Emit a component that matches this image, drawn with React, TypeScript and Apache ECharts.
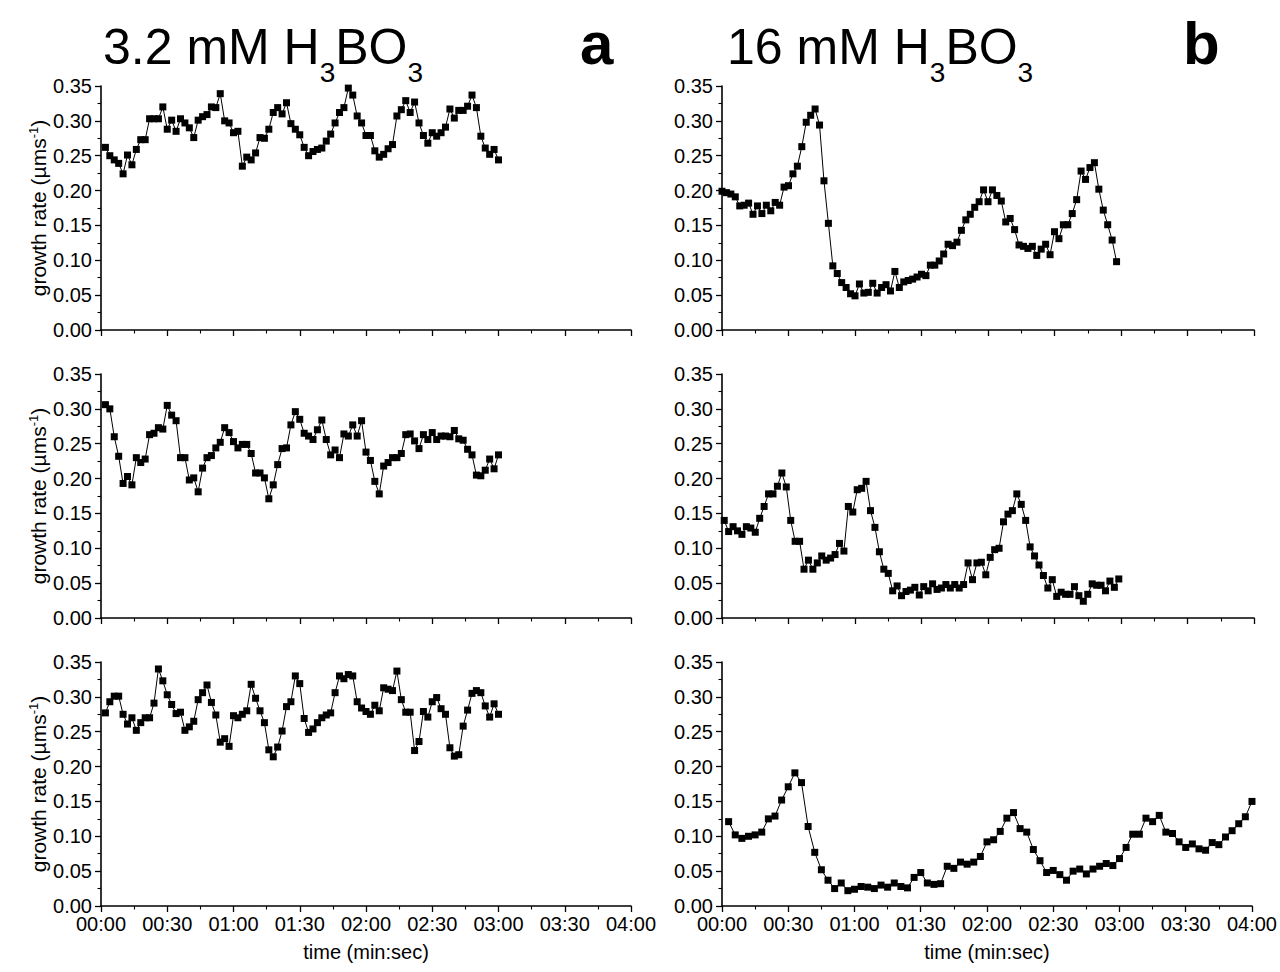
import React, { useEffect, useRef } from 'react';
import * as echarts from 'echarts';

const FONT = "'Liberation Sans', Arial, Helvetica, sans-serif";

// time axis (seconds) and tick labels
const timeMax = 240;
const timeInterval = 30;
const rateMax = 0.35;
const rateInterval = 0.05;

// column a: 3.2 mM H3BO3 (sampled every 2 s)
const rateA1 = [0.262,0.250,0.244,0.239,0.224,0.251,0.237,0.259,0.273,0.273,0.303,0.303,0.303,0.320,0.288,0.301,0.285,0.303,0.297,0.290,0.276,0.301,0.306,0.309,0.320,0.319,0.339,0.300,0.297,0.283,0.285,0.235,0.248,0.244,0.254,0.276,0.275,0.288,0.312,0.319,0.310,0.326,0.296,0.288,0.280,0.262,0.250,0.256,0.259,0.261,0.271,0.281,0.297,0.312,0.319,0.347,0.337,0.307,0.297,0.279,0.279,0.257,0.248,0.252,0.260,0.266,0.307,0.316,0.329,0.312,0.327,0.297,0.279,0.268,0.283,0.278,0.283,0.291,0.317,0.304,0.315,0.315,0.321,0.337,0.319,0.278,0.261,0.252,0.259,0.244];
const rateA2 = [0.306,0.300,0.260,0.232,0.193,0.203,0.191,0.230,0.223,0.228,0.263,0.265,0.273,0.271,0.305,0.291,0.283,0.230,0.230,0.198,0.201,0.181,0.215,0.230,0.233,0.244,0.252,0.273,0.266,0.253,0.244,0.249,0.249,0.236,0.208,0.208,0.201,0.171,0.191,0.220,0.243,0.244,0.277,0.296,0.285,0.265,0.261,0.256,0.270,0.284,0.256,0.234,0.241,0.230,0.264,0.261,0.277,0.261,0.283,0.238,0.226,0.196,0.178,0.218,0.223,0.230,0.230,0.236,0.263,0.264,0.254,0.243,0.263,0.256,0.266,0.256,0.261,0.261,0.260,0.269,0.257,0.255,0.242,0.234,0.205,0.204,0.212,0.228,0.214,0.234];
const rateA3 = [0.277,0.293,0.301,0.301,0.275,0.261,0.270,0.252,0.263,0.270,0.270,0.291,0.340,0.323,0.303,0.289,0.276,0.278,0.252,0.257,0.265,0.296,0.306,0.317,0.292,0.274,0.235,0.240,0.229,0.273,0.270,0.275,0.280,0.318,0.298,0.280,0.263,0.224,0.214,0.228,0.251,0.286,0.293,0.330,0.319,0.269,0.249,0.254,0.263,0.270,0.274,0.277,0.306,0.330,0.326,0.332,0.330,0.293,0.284,0.279,0.275,0.288,0.280,0.313,0.311,0.309,0.337,0.296,0.278,0.278,0.223,0.236,0.279,0.271,0.293,0.299,0.283,0.275,0.227,0.215,0.217,0.258,0.281,0.305,0.309,0.306,0.287,0.271,0.290,0.275];

// column b: 16 mM H3BO3
const rateB1 = [0.199,0.197,0.195,0.191,0.178,0.179,0.182,0.166,0.178,0.167,0.179,0.171,0.183,0.179,0.205,0.207,0.224,0.235,0.263,0.298,0.308,0.317,0.294,0.214,0.153,0.092,0.081,0.068,0.061,0.052,0.049,0.066,0.053,0.054,0.067,0.053,0.061,0.065,0.056,0.084,0.061,0.069,0.071,0.073,0.076,0.080,0.078,0.093,0.093,0.099,0.109,0.123,0.121,0.126,0.143,0.158,0.166,0.176,0.184,0.201,0.184,0.201,0.193,0.185,0.155,0.160,0.144,0.122,0.120,0.117,0.120,0.107,0.116,0.123,0.108,0.141,0.131,0.151,0.151,0.167,0.187,0.228,0.216,0.233,0.240,0.202,0.172,0.151,0.129,0.098];
const rateB2 = [0.140,0.124,0.131,0.125,0.120,0.131,0.129,0.123,0.143,0.160,0.178,0.178,0.189,0.208,0.188,0.140,0.110,0.110,0.070,0.083,0.070,0.079,0.089,0.083,0.086,0.091,0.107,0.096,0.160,0.152,0.184,0.186,0.196,0.154,0.130,0.095,0.070,0.064,0.039,0.046,0.032,0.038,0.040,0.044,0.033,0.045,0.039,0.049,0.041,0.043,0.048,0.043,0.048,0.043,0.048,0.079,0.055,0.079,0.080,0.062,0.087,0.098,0.100,0.138,0.149,0.154,0.178,0.163,0.140,0.102,0.089,0.076,0.061,0.043,0.055,0.031,0.037,0.034,0.034,0.045,0.032,0.024,0.034,0.049,0.047,0.047,0.039,0.053,0.044,0.056];
// sampled every 3 s
const rateB3 = [0.121,0.102,0.097,0.100,0.102,0.106,0.125,0.129,0.152,0.171,0.191,0.177,0.114,0.077,0.052,0.037,0.025,0.033,0.022,0.024,0.028,0.027,0.025,0.030,0.027,0.033,0.028,0.026,0.041,0.048,0.033,0.031,0.032,0.057,0.054,0.063,0.060,0.063,0.071,0.092,0.095,0.107,0.126,0.134,0.111,0.106,0.081,0.065,0.048,0.051,0.045,0.037,0.050,0.053,0.046,0.053,0.057,0.061,0.058,0.068,0.084,0.103,0.103,0.126,0.121,0.130,0.106,0.104,0.092,0.084,0.089,0.082,0.080,0.091,0.088,0.099,0.108,0.118,0.128,0.150];

const panels = [
  { values: rateA1, start: 2, step: 2, col: 0, row: 0 },
  { values: rateA2, start: 2, step: 2, col: 0, row: 1 },
  { values: rateA3, start: 2, step: 2, col: 0, row: 2 },
  { values: rateB1, start: 0, step: 2, col: 1, row: 0 },
  { values: rateB2, start: 1, step: 2, col: 1, row: 1 },
  { values: rateB3, start: 3, step: 3, col: 1, row: 2 },
];

const colLeft = [101, 722];
const colWidth = [530, 532];
const rowTop = [86, 374, 662];
const rowHeight = 244;

const fmtTime = (v: number) => {
  const m = Math.floor(v / 60);
  const s = Math.round(v % 60);
  return `${String(m).padStart(2, '0')}:${String(s).padStart(2, '0')}`;
};

export default function App() {
  const ref = useRef<HTMLDivElement>(null);
  useEffect(() => {
    if (!ref.current) return;
    const chart = echarts.init(ref.current, null, { renderer: 'svg' });
    const black = '#000';
    const grid = panels.map((p) => ({
      left: colLeft[p.col],
      top: rowTop[p.row],
      width: colWidth[p.col],
      height: rowHeight,
      containLabel: false,
    }));
    const xAxis = panels.map((p, i) => ({
      gridIndex: i,
      type: 'value',
      min: 0,
      max: timeMax,
      interval: timeInterval,
      axisLine: { show: true, onZero: false, lineStyle: { color: black, width: 1.6 } },
      axisTick: { show: true, length: 6, lineStyle: { color: black, width: 1.3 } },
      minorTick: { show: true, splitNumber: 2, length: 3.5, lineStyle: { color: black, width: 1.1 } },
      splitLine: { show: false },
      axisLabel: {
        show: p.row === 2,
        formatter: (v: number) => fmtTime(v),
        fontSize: 20,
        lineHeight: 18,
        color: black,
        fontFamily: FONT,
        margin: 9,
        showMinLabel: true,
        showMaxLabel: true,
      },
      name: p.row === 2 ? 'time (min:sec)' : '',
      nameLocation: 'middle',
      nameGap: 36,
      nameTextStyle: { fontSize: 20, color: black, fontFamily: FONT },
    }));
    const yAxis = panels.map((p, i) => ({
      gridIndex: i,
      type: 'value',
      min: 0,
      max: rateMax,
      interval: rateInterval,
      axisLine: { show: true, onZero: false, lineStyle: { color: black, width: 1.6 } },
      axisTick: { show: true, length: 6, lineStyle: { color: black, width: 1.3 } },
      minorTick: { show: true, splitNumber: 2, length: 3.5, lineStyle: { color: black, width: 1.1 } },
      splitLine: { show: false },
      axisLabel: {
        formatter: (v: number) => v.toFixed(2),
        fontSize: 20,
        lineHeight: 16,
        color: black,
        fontFamily: FONT,
        margin: 9,
        showMinLabel: true,
        showMaxLabel: true,
      },
      name: p.col === 0 ? '{t|growth rate (µms}{sup|-1}{t|)}' : '',
      nameLocation: 'middle',
      nameGap: 52,
      nameTextStyle: {
        color: black,
        fontFamily: FONT,
        rich: {
          t: { fontSize: 21, fontFamily: FONT, color: black, lineHeight: 22, verticalAlign: 'bottom' },
          sup: { fontSize: 13, fontFamily: FONT, color: black, lineHeight: 13, verticalAlign: 'top' },
        },
      },
    }));
    const series = panels.map((p, i) => ({
      type: 'line',
      xAxisIndex: i,
      yAxisIndex: i,
      data: p.values.map((v, k) => [p.start + k * p.step, v]),
      symbol: 'rect',
      symbolSize: 7,
      showSymbol: true,
      itemStyle: { color: black },
      lineStyle: { color: black, width: 1 },
      silent: true,
    }));
    const titleRich = {
      n: { fontSize: 50, fontFamily: FONT, lineHeight: 50, verticalAlign: 'top', fill: black },
      s: { fontSize: 28, fontFamily: FONT, lineHeight: 28, verticalAlign: 'top', padding: [36, 0, 0, 0], fill: black },
    };
    const graphic = [
      { type: 'text', left: 103, top: 22, style: { text: '{n|3.2 mM H}{s|3}{n|BO}{s|3}', rich: titleRich, fill: black } },
      { type: 'text', left: 727, top: 22, style: { text: '{n|16 mM H}{s|3}{n|BO}{s|3}', rich: titleRich, fill: black } },
      { type: 'text', x: 580, y: 43, style: { text: 'a', fontSize: 60, fontWeight: 'bold', fontFamily: FONT, fill: black, verticalAlign: 'middle' } },
      { type: 'text', x: 1183, y: 43, style: { text: 'b', fontSize: 60, fontWeight: 'bold', fontFamily: FONT, fill: black, verticalAlign: 'middle' } },
    ];
    chart.setOption({
      animation: false,
      backgroundColor: '#fff',
      grid,
      xAxis,
      yAxis,
      series,
      graphic,
    } as any);
    return () => chart.dispose();
  }, []);
  return <div ref={ref} style={{ position: 'absolute', left: 0, top: 0, width: 1280, height: 972 }} />;
}
